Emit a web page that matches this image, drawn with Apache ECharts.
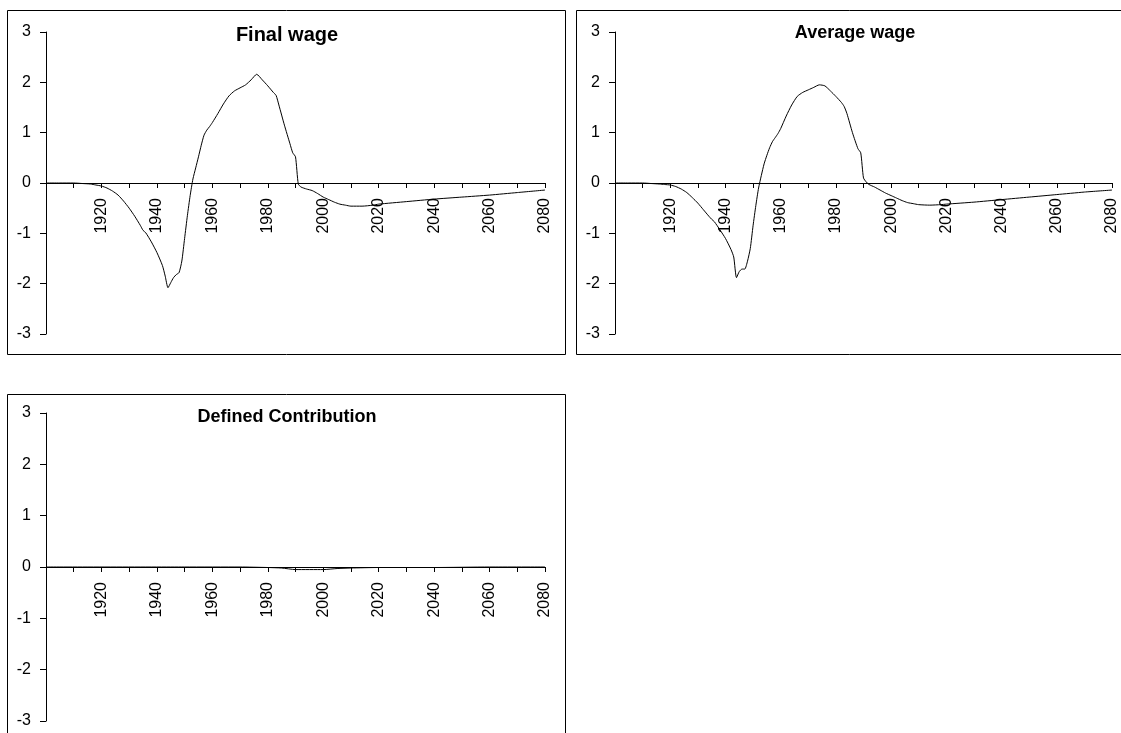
<!DOCTYPE html>
<html>
<head>
<meta charset="utf-8">
<title>Wage panels</title>
<script src="https://cdn.jsdelivr.net/npm/echarts@6/dist/echarts.min.js"></script>
<style>
  html, body { margin: 0; padding: 0; background: #fff; }
  #chart { width: 1121px; height: 733px; }
</style>
</head>
<body>
<div id="chart"></div>
<script>
// years (denser where the line bends)
const years = [1900, 1905, 1910, 1913, 1916, 1918, 1920, 1922, 1924, 1926,
  1928, 1930, 1932, 1934, 1935, 1936, 1938, 1940, 1942, 1943,
  1944, 1945, 1946, 1947, 1948, 1949, 1950, 1951, 1952, 1953,
  1954, 1955, 1956, 1957, 1958, 1959, 1960, 1962, 1964, 1966,
  1968, 1970, 1972, 1974, 1976, 1978, 1980, 1982, 1983, 1984,
  1986, 1988, 1989, 1990, 1991, 1992, 1994, 1996, 1998, 2000,
  2002, 2004, 2006, 2008, 2010, 2014, 2018, 2020, 2030, 2040,
  2050, 2060, 2070, 2080];

const finalWage = [0, 0, 0, -0.01, -0.02, -0.04, -0.06, -0.1, -0.16, -0.24,
  -0.36, -0.5, -0.66, -0.84, -0.94, -0.99, -1.17, -1.38, -1.64, -1.85,
  -2.08, -1.98, -1.88, -1.82, -1.78, -1.55, -1.1, -0.65, -0.25, 0.08,
  0.3, 0.52, 0.75, 0.95, 1.05, 1.12, 1.2, 1.38, 1.57, 1.73,
  1.83, 1.89, 1.95, 2.05, 2.16, 2.05, 1.93, 1.8, 1.74, 1.55,
  1.15, 0.78, 0.6, 0.52, -0.02, -0.08, -0.12, -0.15, -0.21, -0.28,
  -0.33, -0.38, -0.42, -0.44, -0.46, -0.46, -0.44, -0.42, -0.37, -0.32,
  -0.28, -0.24, -0.19, -0.14];

const averageWage = [0, 0, 0, -0.01, -0.02, -0.03, -0.04, -0.07, -0.12, -0.19,
  -0.29, -0.4, -0.53, -0.66, -0.72, -0.77, -0.93, -1.1, -1.32, -1.47,
  -1.88, -1.76, -1.71, -1.71, -1.55, -1.3, -0.85, -0.45, -0.1, 0.15,
  0.38, 0.55, 0.7, 0.82, 0.9, 0.98, 1.08, 1.33, 1.55, 1.72,
  1.8, 1.85, 1.9, 1.95, 1.93, 1.83, 1.72, 1.6, 1.52, 1.38,
  1.0, 0.68, 0.6, 0.1, 0.02, -0.03, -0.08, -0.14, -0.2, -0.25,
  -0.3, -0.35, -0.39, -0.41, -0.43, -0.44, -0.43, -0.42, -0.38, -0.33,
  -0.28, -0.23, -0.18, -0.14];

const dcYears = [1900, 1950, 1970, 1980, 1985, 1990, 2000, 2005, 2010, 2020, 2040, 2060, 2080];
const dcValues = [0, 0, 0, -0.01, -0.02, -0.05, -0.05, -0.03, -0.02, -0.01, -0.01, 0, 0];

const yearLabels = [1920, 1940, 1960, 1980, 2000, 2020, 2040, 2060, 2080];
const panelTitles = ['Final wage', 'Average wage', 'Defined Contribution'];

const FONT = 'Arial, "Liberation Sans", sans-serif';

// grid boxes: the x axis sits on y = 0, i.e. half way up each grid
const grids = [
  { left: 46, width: 499, top: 32, height: 302 },
  { left: 615, width: 497, top: 32, height: 302 },
  { left: 46, width: 499, top: 413, height: 308 }
];

function pairs(xs, ys) {
  return xs.map((x, i) => [x, ys[i]]);
}

function xAxisFor(idx) {
  return {
    type: 'value',
    gridIndex: idx,
    min: 1900,
    max: 2080,
    interval: 10,
    offset: -grids[idx].height / 2,
    axisLine: { onZero: false, lineStyle: { color: '#000', width: 1 } },
    axisTick: { show: true, length: 5, lineStyle: { color: '#000' } },
    axisLabel: {
      rotate: 90,
      margin: 15,
      color: '#000',
      fontSize: 16,
      fontFamily: FONT,
      showMinLabel: true,
      showMaxLabel: true,
      formatter: v => yearLabels.indexOf(v) >= 0 ? String(v) : ''
    },
    splitLine: { show: false }
  };
}

function yAxisFor(idx) {
  return {
    type: 'value',
    gridIndex: idx,
    min: -3,
    max: 3,
    interval: 1,
    axisLine: { show: true, onZero: false, lineStyle: { color: '#000', width: 1 } },
    axisTick: { show: true, length: 6, lineStyle: { color: '#000' } },
    axisLabel: { margin: 15, color: '#000', fontSize: 16, fontFamily: FONT },
    splitLine: { show: false }
  };
}

function lineSeries(idx, data) {
  return {
    type: 'line',
    xAxisIndex: idx,
    yAxisIndex: idx,
    data: data,
    showSymbol: false,
    smooth: 0.2,
    lineStyle: { color: '#000', width: 1 },
    silent: true,
    animation: false
  };
}

const chart = echarts.init(document.getElementById('chart'), null, { renderer: 'canvas' });

chart.setOption({
  animation: false,
  backgroundColor: '#fff',
  title: [
    { text: panelTitles[0], left: 287, top: 25, textAlign: 'center', padding: 0,
      textStyle: { fontSize: 20, fontWeight: 'bold', color: '#000', fontFamily: FONT } },
    { text: panelTitles[1], left: 855, top: 24, textAlign: 'center', padding: 0,
      textStyle: { fontSize: 18, fontWeight: 'bold', color: '#000', fontFamily: FONT } },
    { text: panelTitles[2], left: 287, top: 408, textAlign: 'center', padding: 0,
      textStyle: { fontSize: 18, fontWeight: 'bold', color: '#000', fontFamily: FONT } }
  ],
  grid: grids.map(g => Object.assign({ containLabel: false, outerBoundsMode: 'none' }, g)),
  xAxis: [xAxisFor(0), xAxisFor(1), xAxisFor(2)],
  yAxis: [yAxisFor(0), yAxisFor(1), yAxisFor(2)],
  series: [
    lineSeries(0, pairs(years, finalWage)),
    lineSeries(1, pairs(years, averageWage)),
    lineSeries(2, pairs(dcYears, dcValues))
  ],
  graphic: [
    // panel frames
    { type: 'rect', silent: true, shape: { x: 7.5, y: 10.5, width: 558, height: 344 },
      style: { fill: 'none', stroke: '#000', lineWidth: 1 } },
    { type: 'rect', silent: true, shape: { x: 576.5, y: 10.5, width: 560, height: 344 },
      style: { fill: 'none', stroke: '#000', lineWidth: 1 } },
    { type: 'rect', silent: true, shape: { x: 7.5, y: 394.5, width: 558, height: 360 },
      style: { fill: 'none', stroke: '#000', lineWidth: 1 } }
  ]
});
</script>
</body>
</html>
